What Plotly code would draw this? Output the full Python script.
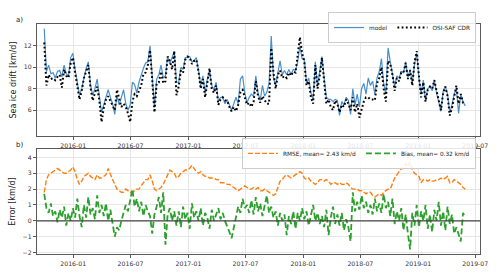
import pandas as pd
import plotly.graph_objects as go

# weekly sampling dates (Thursdays) from 2015-10-01 to 2019-05-30
dates = pd.date_range("2015-10-01", periods=192, freq="7D")

model = [13.6, 9.6, 10.2, 9.4, 9.5, 9.0, 9.6, 9.7, 9.1, 10.2, 9.4, 9.2, 10.9, 11.3,
         9.8, 8.5, 7.4, 8.0, 9.1, 9.9, 10.5, 8.3, 7.4, 8.0, 8.9, 7.2, 5.8, 6.5, 7.3, 7.9,
         7.2, 6.6, 5.6, 7.4, 6.5, 7.2, 7.9, 6.6, 6.0, 6.5, 8.6, 8.4, 7.6, 8.6, 9.3, 9.9, 10.4,
         10.5, 12.0, 8.6, 6.3, 8.9, 9.3, 10.2, 9.0, 9.2, 11.0,
         10.3, 11.0, 11.5, 8.6, 8.6, 10.0, 9.8, 10.9, 10.9, 11.0,
         10.5, 10.6, 10.9, 9.7, 8.3, 9.2, 7.6, 8.9, 9.7, 8.3,
         7.9, 8.6, 6.8, 7.2, 7.2, 6.6, 7.0, 6.5, 6.0, 6.6,
         7.2, 6.6, 8.9, 9.2, 7.6, 6.7, 7.2,
         7.5, 7.3, 9.2, 7.6, 6.9, 8.3, 7.3, 7.7, 8.5, 12.9,
         9.0, 8.3, 9.5, 10.6, 9.3, 9.7, 9.3, 9.8, 9.3, 9.8,
         9.7, 10.5, 12.0, 10.8, 10.8, 8.5, 9.0, 7.6, 7.0, 10.5,
         8.3, 9.5, 11.0, 9.0, 7.2, 7.0, 7.0, 6.8, 7.0, 6.9,
         5.5, 6.8, 6.5, 7.2, 6.9, 5.6, 8.0, 6.5, 7.5, 6.3,
         8.0, 8.5, 7.5, 9.0, 8.3, 8.7, 7.5, 9.0, 9.6, 10.8,
         8.5, 7.5, 11.8, 10.5, 9.4, 8.2, 9.2, 9.0, 9.6, 9.5,
         10.5, 9.0, 9.8, 8.5, 10.3, 11.3, 9.0, 7.5, 8.8, 6.9,
         8.0, 8.2, 7.8, 8.8, 7.6, 6.6, 5.9, 7.8, 8.2, 7.5,
         5.8, 6.5, 7.5, 8.0, 5.7, 7.5, 6.8, 6.4]

osisaf = [12.3, 8.3, 9.3, 8.9, 9.0, 8.8, 9.1, 9.3, 8.1, 9.8, 9.2, 9.0, 10.4, 10.9,
          9.5, 8.2, 7.0, 7.8, 9.0, 9.6, 10.2, 8.1, 6.9, 7.6,
          8.2, 6.9, 4.9, 6.2, 7.0, 7.3, 6.9, 6.5, 6.0, 7.9,
          7.0, 6.3, 6.6, 6.3, 5.7, 4.9, 6.8, 7.5, 7.3, 7.9,
          8.3, 9.4, 9.5,
          10.2, 11.6, 8.8, 5.8, 8.5, 8.6, 9.6, 8.5, 8.7, 11.0,
          10.6, 9.8, 11.5, 7.4, 8.2, 9.7, 9.5, 10.7, 11.0, 10.9,
          10.3, 10.6, 10.7, 9.6, 8.0, 8.9, 7.2, 8.7, 9.9, 8.0,
          7.6, 8.3, 6.5, 7.0, 7.2, 6.9, 6.9, 6.3, 5.9, 6.3,
          5.9, 6.5, 7.7, 7.9, 7.3, 6.5, 6.7,
          6.3, 6.8, 8.7, 7.3, 6.7, 7.3, 7.0, 6.6, 6.6, 11.8,
          9.5, 8.0, 9.3, 9.7, 9.0, 9.2, 9.0, 9.5, 9.2, 9.6,
          9.5, 11.0, 12.8, 11.3, 10.5, 8.3, 8.7, 7.2, 6.6, 10.2,
          8.0, 9.2, 10.9, 8.7, 6.6, 7.0, 6.3, 6.0, 6.9, 6.6,
          5.8, 6.5, 6.3, 7.0, 6.6, 6.0, 7.2, 5.8, 6.6, 5.3,
          6.2, 6.8, 7.2, 7.2, 7.0, 7.0, 6.9, 8.5, 9.0, 10.0,
          8.0, 6.8, 10.6, 10.3, 9.3, 7.8, 9.0, 8.7, 9.5, 9.5,
          10.4, 8.9, 9.7, 8.3, 10.5, 11.5, 9.2, 7.2, 8.6, 6.8,
          7.9, 8.2, 8.0, 8.8, 7.8, 6.9, 6.0, 7.6, 8.2, 7.3,
          5.5, 6.2, 7.4, 8.3, 6.6, 7.5, 6.7, 6.5]

rmse = [1.8, 2.6, 2.9, 3.0, 3.1, 3.2, 3.3, 3.2, 3.1, 3.0,
        3.0, 3.1, 3.2, 3.4, 3.1, 2.6, 2.3, 2.5, 2.8, 2.9,
        3.0, 2.8, 2.7, 2.6, 2.9, 2.7, 2.7, 2.8, 2.9, 3.3,
        2.9, 2.6, 2.3, 2.0, 1.9, 1.8, 1.8, 2.0, 1.9, 1.8,
        1.8, 1.9, 2.0, 2.0, 2.2, 2.4, 2.6,
        2.6, 2.9, 2.5, 2.0, 1.9, 2.0, 2.1, 2.3, 2.6, 2.9,
        3.2, 3.1, 3.0, 2.7, 2.8, 3.0, 3.1, 3.2, 3.2, 3.3,
        3.5, 3.3, 3.1, 3.0, 3.1, 2.9, 2.8, 2.8, 2.7, 2.7,
        2.7, 2.6, 2.6, 2.4, 2.4, 2.4, 2.3, 2.3, 2.2, 2.1,
        2.0, 1.9, 2.0, 2.1, 2.2, 2.1, 2.0,
        2.0, 2.1, 2.0, 2.1, 1.9, 1.9, 2.0, 1.9, 1.8, 1.7,
        1.6, 1.7, 2.1, 2.5, 2.6, 2.8, 2.9, 2.8, 2.7, 2.8,
        2.9, 3.0, 3.1, 3.0, 2.7, 2.6, 2.7, 2.5, 2.4, 2.3,
        2.4, 2.6, 2.6, 2.5, 2.6, 2.5, 2.3, 2.4, 2.4, 2.3,
        2.4, 2.3, 2.3, 2.4, 2.3, 2.1, 2.0, 2.0, 2.0, 1.9,
        1.9, 1.8, 1.7, 1.8, 1.8, 1.6, 1.5, 1.6, 1.7, 1.6,
        1.8, 1.9, 2.0, 2.0, 2.4, 2.7, 2.9, 3.1, 3.3, 3.3,
        3.6, 3.4, 3.7, 3.2, 3.0, 2.9, 2.8, 2.4, 2.6, 2.6,
        2.5, 2.6, 2.5, 2.5, 2.6, 2.6, 2.7, 2.6, 2.7, 2.8,
        2.4, 2.4, 2.6, 2.5, 2.4, 2.3, 2.1, 2.0]

bias = [1.7, 0.8, 0.5, 1.1, 0.3, 0.6, -0.1, 0.7, 0.2, 0.9, -0.3, 0.5, 0.0, 0.8,
        0.2, 1.4, 0.3, -0.4, 1.0, 0.2, 1.5, 0.4, 0.8, 0.1, 1.6, 0.5, 1.0,
        0.3, 1.1, 0.0, 0.7, -0.3, -1.0, -0.4, -0.6,
        0.0, 0.6, 1.0, 0.6, 1.3,
        2.0, 0.9, 1.4, 0.6, 1.2, 0.3, 1.0, 0.6,
        0.3, -0.8, 0.4, 0.9, 1.5,
        0.5, 1.8, -1.5, 0.4,
        0.8, 0.0, 0.6, -0.3,
        0.6, -0.4, 0.9, 0.1, 0.5,
        -0.5, 1.1, 0.2, 0.6,
        0.0, 0.8, -0.3, 0.5,
        0.2, -0.5, 0.7, 0.0, 0.4,
        0.8, 0.1, 0.5, 0.0,
        -0.3, -0.7, -1.1, -0.4,
        0.3, 0.9, 0.5, 1.4, 0.8,
        1.0, 0.5, 1.3, 0.4,
        1.5, 0.6, 1.1, 0.3, 0.9,
        1.6, 0.5, 0.9, 0.2,
        0.6, -0.3, 0.5, 0.0,
        0.4, -0.9, 0.3, -0.2, 0.6,
        -0.5, 0.5, 0.0, 0.8,
        0.1, 0.6, -0.3, 0.4,
        1.0, 0.0, 0.5, -0.2,
        0.3, -0.4, 0.7, -0.9, 0.2,
        0.9, -0.2, 0.4, -0.3,
        0.5, -0.6, 0.1, -0.4,
        -1.3, 1.8, 0.6, 1.2, 0.7,
        1.6, 0.8, 1.2, 0.5,
        1.0, 0.4, 1.4, 0.6, 1.1,
        0.5, 1.7, 0.8, 1.2,
        0.3, 1.4, -0.2, 0.6,
        0.0, 0.8, -0.6, 0.4, -0.8,
        -1.8, 0.5, -0.3, 1.0,
        -0.4, 0.6, 0.0, 1.0, -0.5,
        0.4, -0.7, 0.7, 0.0,
        1.2, -0.3, 0.6, -0.6,
        0.9, -0.2, 0.4, -0.8,
        -0.4, -0.9, -1.3, 0.5, 0.2]

tick_dates = ["2016-01-01", "2016-07-01", "2017-01-01", "2017-07-01",
              "2018-01-01", "2018-07-01", "2019-01-01", "2019-07-01"]
tick_text = ["2016-01", "2016-07", "2017-01", "2017-07",
             "2018-01", "2018-07", "2019-01", "2019-07"]

FONT = "DejaVu Sans"
fig = go.Figure()

fig.add_trace(go.Scatter(x=dates, y=model, mode="lines", name="model",
                         line=dict(color="#4a8fcc", width=1.2),
                         xaxis="x", yaxis="y", legend="legend"))
fig.add_trace(go.Scatter(x=dates, y=osisaf, mode="lines", name="OSI-SAF CDR",
                         line=dict(color="black", width=2.0, dash="1.8px,2.4px"),
                         xaxis="x", yaxis="y", legend="legend"))
fig.add_trace(go.Scatter(x=dates, y=rmse, mode="lines", name="RMSE, mean= 2.43 km/d",
                         line=dict(color="#ff7f0e", width=1.4, dash="5px,2px"),
                         xaxis="x2", yaxis="y2", legend="legend2"))
fig.add_trace(go.Scatter(x=dates, y=bias, mode="lines", name="Bias, mean= 0.32 km/d",
                         line=dict(color="#2ca02c", width=1.8, dash="6px,3px"),
                         xaxis="x2", yaxis="y2", legend="legend2"))

xcommon = dict(range=["2015-09-08", "2019-07-16"], tickvals=tick_dates, ticktext=tick_text,
               showgrid=True, gridcolor="#e6e6e6", gridwidth=0.8,
               showline=True, linecolor="#5a5a5a", linewidth=1.3, mirror=True,
               ticks="outside", ticklen=3, tickcolor="#5a5a5a",
               tickfont=dict(family=FONT, size=6.2, color="#333"), zeroline=False)
ycommon = dict(showgrid=True, gridcolor="#e6e6e6", gridwidth=0.8,
               showline=True, linecolor="#5a5a5a", linewidth=1.3, mirror=True,
               ticks="outside", ticklen=3, tickcolor="#5a5a5a",
               tickfont=dict(family=FONT, size=6.2, color="#333"), zeroline=False)

fig.update_layout(
    width=500, height=279,
    margin=dict(l=30, r=13, t=14, b=15),
    paper_bgcolor="white", plot_bgcolor="white",
    font=dict(family=FONT, color="#222"),
    xaxis=dict(domain=[0, 1], anchor="y", **xcommon),
    yaxis=dict(domain=[0.512, 1], anchor="x", range=[3.57, 14.03], tickvals=[6, 8, 10, 12],
               title=dict(text="Sea ice drift [km/d]", font=dict(family=FONT, size=8, color="#222"), standoff=5),
               **ycommon),
    xaxis2=dict(domain=[0, 1], anchor="y2", **xcommon),
    yaxis2=dict(domain=[0, 0.456], anchor="x2", range=[-2.09, 4.52], tickvals=[-2, -1, 0, 1, 2, 3, 4],
                title=dict(text="Error [km/d]", font=dict(family=FONT, size=8, color="#222"), standoff=5),
                **ycommon),
    legend=dict(orientation="h", x=0.991, xanchor="right", y=1.052, yanchor="top",
                bgcolor="rgba(255,255,255,0.85)", bordercolor="#cccccc", borderwidth=1,
                font=dict(family=FONT, size=5.8, color="#222"), tracegroupgap=0,
                itemwidth=30),
    legend2=dict(orientation="h", x=0.991, xanchor="right", y=0.505, yanchor="top",
                 bgcolor="rgba(255,255,255,0.85)", bordercolor="#cccccc", borderwidth=1,
                 font=dict(family=FONT, size=5.8, color="#222"), tracegroupgap=0,
                 itemwidth=30),
    showlegend=True,
)

fig.add_shape(type="line", xref="x2 domain", yref="y2", x0=0, x1=1, y0=0, y1=0,
              line=dict(color="#444", width=1.4))

fig.add_annotation(text="a)", xref="paper", yref="paper", x=-0.052, y=1.016,
                   xanchor="left", yanchor="middle", showarrow=False,
                   font=dict(family=FONT, size=7, color="#222"))
fig.add_annotation(text="b)", xref="paper", yref="paper", x=-0.052, y=0.472,
                   xanchor="left", yanchor="middle", showarrow=False,
                   font=dict(family=FONT, size=7, color="#222"))

fig.write_html("out.html")
